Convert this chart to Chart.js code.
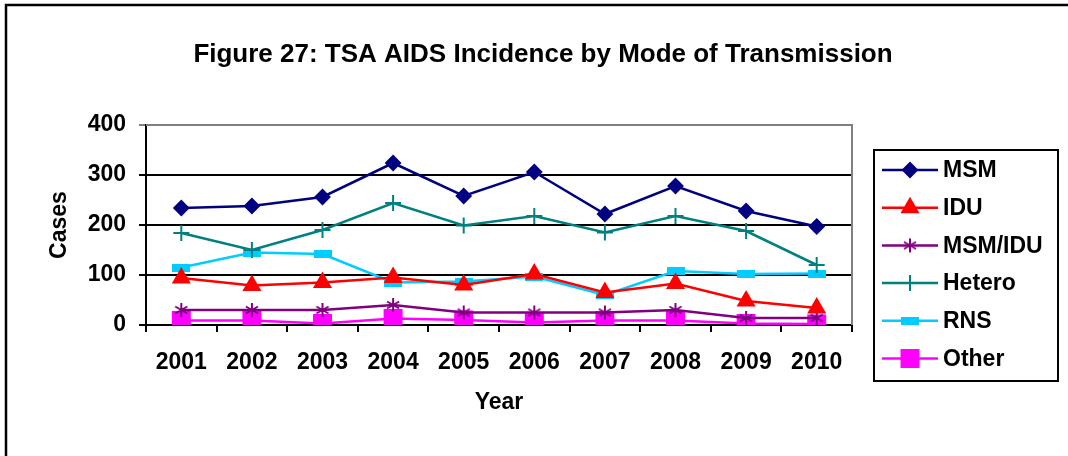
<!DOCTYPE html>
<html>
<head>
<meta charset="utf-8">
<script src="https://cdn.jsdelivr.net/npm/chart.js@4"></script>
<style>
  html, body { margin: 0; padding: 0; background: #fff; }
  canvas { display: block; }
</style>
</head>
<body>
<canvas id="chart" width="1068" height="456"></canvas>
<script>
(() => {
    // data
    const YEARS = ['2001', '2002', '2003', '2004', '2005', '2006', '2007', '2008', '2009', '2010'];
    const MSM = [234, 238, 256, 324, 258, 306, 222, 278, 228, 197];
    const IDU = [94, 79, 85, 95, 80, 102, 65, 83, 48, 34];
    const MSM_IDU = [30, 30, 30, 40, 25, 25, 25, 30, 14, 14];
    const HETERO = [184, 150, 190, 244, 199, 218, 185, 218, 188, 120];
    const RNS = [115, 145, 142, 85, 87, 97, 60, 108, 102, 103];
    const OTHER = [9, 9, 3, 13, 10, 5, 9, 9, 3, 2];
    const Y_TICKS = [0, 100, 200, 300, 400];

    const TITLE = 'Figure 27: TSA AIDS Incidence by Mode of Transmission';
    const FONT = '"Liberation Sans", Arial, sans-serif';

    // custom markers
    function flatRect(color) {
        const c = document.createElement('canvas');
        c.width = 18; c.height = 8;
        const g = c.getContext('2d');
        g.fillStyle = color;
        g.fillRect(0, 0, 18, 8);
        return c;
    }

    function asterisk(color) {
        const c = document.createElement('canvas');
        c.width = 16; c.height = 16;
        const g = c.getContext('2d');
        g.strokeStyle = color;
        g.lineWidth = 2;
        g.beginPath();
        for (const a of [90, 30, 150]) {
            const r = a * Math.PI / 180;
            g.moveTo(8 - Math.cos(r) * 7, 8 - Math.sin(r) * 7);
            g.lineTo(8 + Math.cos(r) * 7, 8 + Math.sin(r) * 7);
        }
        g.stroke();
        return c;
    }

    function series(label, data, color, style, radius) {
        return {
            label, data,
            borderColor: color,
            backgroundColor: color,
            pointBackgroundColor: color,
            pointBorderColor: color,
            borderWidth: 2.5,
            pointStyle: style,
            pointRadius: radius,
            pointHoverRadius: radius,
            pointBorderWidth: 2,
            tension: 0
        };
    }

    const datasets = [
        series('MSM', MSM, '#000080', 'rectRot', 7),
        series('IDU', IDU, '#FF0000', 'triangle', 9),
        series('MSM/IDU', MSM_IDU, '#800080', asterisk('#800080'), 8),
        series('Hetero', HETERO, '#008080', 'cross', 8),
        series('RNS', RNS, '#00CCFF', flatRect('#00CCFF'), 8),
        series('Other', OTHER, '#FF00FF', 'rect', 12)
    ];

    // title, frame, plot border and legend
    const decor = {
        id: 'decor',
        afterDraw(chart) {
            const ctx = chart.ctx;
            const area = chart.chartArea;
            ctx.save();

            ctx.strokeStyle = '#000';
            ctx.lineWidth = 2.5;
            ctx.strokeRect(6, 5, 1080, 470);

            ctx.strokeStyle = '#808080';
            ctx.lineWidth = 2;
            ctx.beginPath();
            ctx.moveTo(area.left, area.top);
            ctx.lineTo(area.right, area.top);
            ctx.lineTo(area.right, area.bottom);
            ctx.stroke();

            ctx.fillStyle = '#000';
            ctx.font = 'bold 26px ' + FONT;
            ctx.textAlign = 'center';
            ctx.textBaseline = 'alphabetic';
            ctx.fillText(TITLE, 543, 62);

            // legend
            ctx.strokeStyle = '#000';
            ctx.lineWidth = 2;
            ctx.strokeRect(874, 150, 184, 231);
            ctx.font = 'bold 23px ' + FONT;
            ctx.textAlign = 'left';
            ctx.textBaseline = 'middle';
            chart.data.datasets.forEach((ds, i) => {
                const y = 170 + i * 37.7;
                ctx.strokeStyle = ds.borderColor;
                ctx.lineWidth = 2.5;
                ctx.beginPath();
                ctx.moveTo(882, y);
                ctx.lineTo(938, y);
                ctx.stroke();
                ctx.fillStyle = ds.borderColor;
                ctx.lineWidth = 2;
                Chart.helpers.drawPoint(ctx, {
                    pointStyle: ds.pointStyle,
                    radius: ds.pointRadius,
                    rotation: 0,
                    borderWidth: 2
                }, 910, y);
                ctx.fillStyle = '#000';
                ctx.fillText(ds.label, 943, y + 1);
            });
            ctx.restore();
        }
    };

    const tickFont = { family: FONT, size: 23, weight: 'bold' };

    new Chart(document.getElementById('chart'), {
        type: 'line',
        data: { labels: YEARS, datasets },
        options: {
            responsive: false,
            animation: false,
            layout: { padding: { left: 10, right: 216, top: 125, bottom: 31 } },
            plugins: {
                legend: { display: false },
                title: { display: false },
                tooltip: { enabled: false }
            },
            scales: {
                x: {
                    offset: true,
                    afterFit: s => { s.height = 100; },
                    ticks: {
                        color: '#000',
                        font: tickFont,
                        padding: 17,
                        maxRotation: 0
                    },
                    grid: {
                        offset: true,
                        drawOnChartArea: false,
                        color: '#000',
                        lineWidth: 2,
                        tickLength: 7
                    },
                    border: { color: '#000', width: 2 },
                    title: {
                        display: true,
                        text: 'Year',
                        color: '#000',
                        font: tickFont,
                        padding: { top: 0, bottom: 9 }
                    }
                },
                y: {
                    min: 0,
                    max: 400,
                    afterFit: s => { s.width = 136; },
                    afterBuildTicks: s => { s.ticks = Y_TICKS.map(v => ({ value: v })); },
                    ticks: {
                        color: '#000',
                        font: tickFont,
                        padding: 13
                    },
                    grid: {
                        color: c => (c.tick && c.tick.value === 400) ? '#808080' : '#000',
                        lineWidth: 2,
                        tickLength: 7
                    },
                    border: { color: '#000', width: 2 },
                    title: {
                        display: true,
                        text: 'Cases',
                        color: '#000',
                        font: tickFont,
                        padding: { top: 36, bottom: 0 }
                    }
                }
            }
        },
        plugins: [decor]
    });
})();
</script>
</body>
</html>
